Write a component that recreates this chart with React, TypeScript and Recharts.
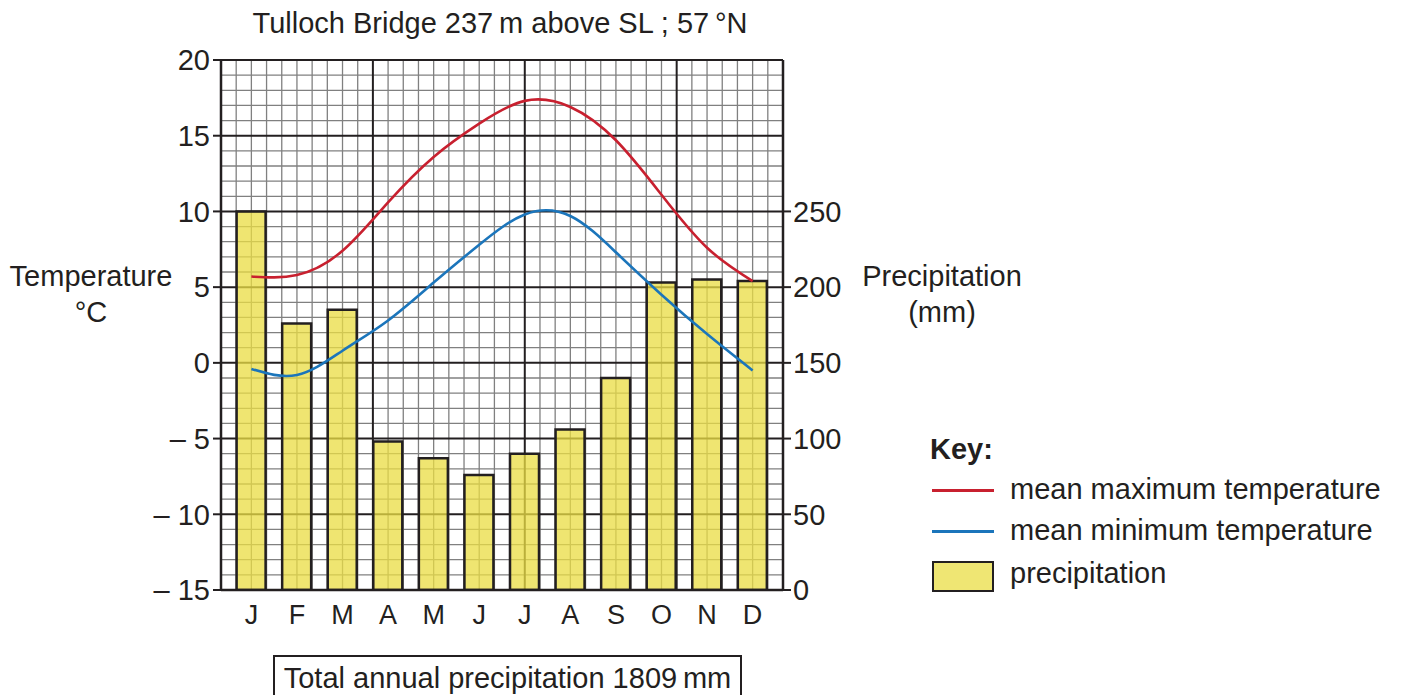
import React from 'react';
import { ComposedChart, Bar, Line, XAxis, YAxis, CartesianGrid } from 'recharts';

const monthKeys = ['Jan', 'Feb', 'Mar', 'Apr', 'May', 'Jun', 'Jul', 'Aug', 'Sep', 'Oct', 'Nov', 'Dec'];
const monthLabels = ['J', 'F', 'M', 'A', 'M', 'J', 'J', 'A', 'S', 'O', 'N', 'D'];
const precipitation = [250, 176, 185, 98, 87, 76, 90, 106, 140, 203, 205, 204];
const meanMax = [5.7, 5.8, 7.4, 10.6, 13.6, 15.8, 17.3, 16.9, 14.7, 11.1, 7.6, 5.4];
const meanMin = [-0.4, -0.8, 0.8, 2.8, 5.3, 7.8, 9.8, 9.7, 7.3, 4.5, 1.9, -0.5];
const tempTicks = [-15, -10, -5, 0, 5, 10, 15, 20];
const precipTicks = [0, 50, 100, 150, 200, 250];

const data = monthKeys.map((k, i) => ({
  key: k,
  precip: precipitation[i],
  tmax: meanMax[i],
  tmin: meanMin[i],
}));

const INK = '#231f20';
const FONT = '"Liberation Sans", Arial, Helvetica, sans-serif';
const FS = 29;
const X_CELLS = 37;
const Y_CELLS = 35;

const minorV = ({ offset }: any) => {
  const out: number[] = [];
  for (let i = 1; i < X_CELLS; i++) if (i % 10 !== 0) out.push(offset.left + (i * offset.width) / X_CELLS);
  return out;
};
const majorV = ({ offset }: any) => {
  const out: number[] = [];
  for (let i = 10; i < X_CELLS; i += 10) out.push(offset.left + (i * offset.width) / X_CELLS);
  return out;
};
const minorH = ({ offset }: any) => {
  const out: number[] = [];
  for (let i = 1; i < Y_CELLS; i++) if (i % 5 !== 0) out.push(offset.top + (i * offset.height) / Y_CELLS);
  return out;
};
const majorH = ({ offset }: any) => {
  const out: number[] = [];
  for (let i = 0; i < Y_CELLS; i += 5) out.push(offset.top + (i * offset.height) / Y_CELLS);
  return out;
};

const fmtTemp = (v: number) => (v < 0 ? `\u2013 ${Math.abs(v)}` : `${v}`);

const text: React.CSSProperties = {
  position: 'absolute',
  fontFamily: FONT,
  fontSize: FS,
  color: INK,
  whiteSpace: 'nowrap',
  lineHeight: 1,
};

export default function App() {
  return (
    <div style={{ position: 'absolute', left: 0, top: 0, width: 1402, height: 695, overflow: 'hidden', background: '#fff' }}>
      <div style={{ position: 'absolute', left: 0, top: 0 }}>
        <ComposedChart
          width={1402}
          height={695}
          data={data}
          margin={{ top: 60, right: 539, bottom: 65, left: 141 }}
          barCategoryGap={0}
        >
          <CartesianGrid
            vertical
            horizontal
            stroke="#808080"
            strokeWidth={1.3}
            verticalCoordinatesGenerator={minorV}
            horizontalCoordinatesGenerator={minorH}
          />
          <CartesianGrid
            vertical
            horizontal
            stroke={INK}
            strokeWidth={2}
            verticalCoordinatesGenerator={majorV}
            horizontalCoordinatesGenerator={majorH}
          />
          <XAxis
            dataKey="key"
            xAxisId="m"
            height={40}
            padding={{ left: 7.6, right: 7.6 }}
            tickFormatter={(_v: any, i: number) => monthLabels[i]}
            tickLine={false}
            axisLine={{ stroke: INK, strokeWidth: 2.5 }}
            tick={{ fill: INK, fontSize: 27, fontFamily: FONT }}
            tickMargin={9}
            interval={0}
          />
          <YAxis
            yAxisId="temp"
            orientation="left"
            width={80}
            domain={[-15, 20]}
            ticks={tempTicks}
            type="number"
            allowDataOverflow
            tickFormatter={fmtTemp}
            tickLine={{ stroke: INK, strokeWidth: 2 }}
            tickSize={8}
            tickMargin={3}
            axisLine={{ stroke: INK, strokeWidth: 2.5 }}
            tick={{ fill: INK, fontSize: FS, fontFamily: FONT }}
          />
          <YAxis
            yAxisId="precip"
            orientation="right"
            width={80}
            domain={[0, 350]}
            ticks={precipTicks}
            type="number"
            allowDataOverflow
            tickLine={{ stroke: INK, strokeWidth: 2 }}
            tickSize={8}
            tickMargin={2}
            axisLine={{ stroke: INK, strokeWidth: 2.5 }}
            tick={{ fill: INK, fontSize: FS, fontFamily: FONT }}
          />
          <Bar
            xAxisId="m"
            yAxisId="precip"
            dataKey="precip"
            barSize={29}
            fill="#eadd44"
            fillOpacity={0.76}
            stroke={INK}
            strokeWidth={2.5}
            isAnimationActive={false}
          />
          <Line
            xAxisId="m"
            yAxisId="temp"
            dataKey="tmax"
            type="natural"
            stroke="#c8202f"
            strokeWidth={2.6}
            dot={false}
            activeDot={false}
            isAnimationActive={false}
          />
          <Line
            xAxisId="m"
            yAxisId="temp"
            dataKey="tmin"
            type="natural"
            stroke="#1b75bb"
            strokeWidth={2.6}
            dot={false}
            activeDot={false}
            isAnimationActive={false}
          />
        </ComposedChart>
      </div>

      <div style={{ ...text, left: 0, width: 1000, top: 9, textAlign: 'center' }}>
        Tulloch Bridge 237&#8201;m above SL ; 57&#8201;°N
      </div>

      <div style={{ ...text, left: 0, width: 182, top: 258, textAlign: 'center', lineHeight: '36px' }}>
        Temperature
        <br />
        °C
      </div>
      <div style={{ ...text, left: 852, width: 180, top: 258, textAlign: 'center', lineHeight: '36px' }}>
        Precipitation
        <br />
        (mm)
      </div>

      <div style={{ ...text, left: 930, top: 435, fontWeight: 'bold' }}>Key:</div>
      <div style={{ position: 'absolute', left: 932, top: 489, width: 62, height: 3, background: '#c8202f' }} />
      <div style={{ ...text, left: 1010, top: 475 }}>mean maximum temperature</div>
      <div style={{ position: 'absolute', left: 932, top: 530, width: 62, height: 3, background: '#1b75bb' }} />
      <div style={{ ...text, left: 1010, top: 516 }}>mean minimum temperature</div>
      <div
        style={{
          position: 'absolute',
          left: 932,
          top: 561,
          width: 58,
          height: 27,
          background: '#efe673',
          border: `2.5px solid ${INK}`,
        }}
      />
      <div style={{ ...text, left: 1010, top: 559 }}>precipitation</div>

      <div
        style={{
          position: 'absolute',
          left: 273,
          top: 655,
          width: 469,
          height: 50,
          border: `2px solid ${INK}`,
          boxSizing: 'border-box',
        }}
      />
      <div style={{ ...text, left: 273, width: 469, top: 664, textAlign: 'center' }}>
        Total annual precipitation 1809&#8201;mm
      </div>
    </div>
  );
}
